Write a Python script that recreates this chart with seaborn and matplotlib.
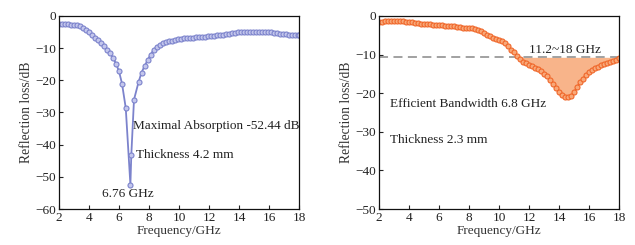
import numpy as np
import pandas as pd
import matplotlib
matplotlib.use("Agg")
import matplotlib.pyplot as plt
import seaborn as sns

# ---- data ----
freq_a = [2.0, 2.2, 2.4, 2.6, 2.8, 3.0, 3.2, 3.4, 3.6, 3.8, 4.0, 4.2, 4.4, 4.6, 4.8,
          5.0, 5.2, 5.4, 5.6, 5.8, 6.0, 6.2, 6.45, 6.76, 6.82, 7.0, 7.3, 7.5, 7.7,
          7.9, 8.1, 8.3, 8.5, 8.7, 8.9, 9.1, 9.3, 9.5, 9.7, 9.9, 10.1, 10.3, 10.5, 10.7,
          10.9, 11.1, 11.3, 11.5, 11.7, 11.9, 12.1, 12.3, 12.5, 12.7, 12.9, 13.1, 13.3,
          13.5, 13.7, 13.9, 14.1, 14.3, 14.5, 14.7, 14.9, 15.1, 15.3, 15.5, 15.7, 15.9,
          16.1, 16.3, 16.5, 16.7, 16.9, 17.1, 17.3, 17.5, 17.7, 17.9, 18.0]
rl_a = [-2.4, -2.5, -2.6, -2.6, -2.7, -2.7, -2.9, -3.2, -3.6, -4.2, -5.0, -5.8, -6.7, -7.6, -8.4,
        -9.4, -10.5, -11.6, -13.0, -14.8, -17.2, -21.0, -28.6, -52.44, -43.2, -26.0, -20.6, -17.6, -15.6,
        -13.8, -12.0, -10.6, -9.6, -9.0, -8.5, -8.2, -7.9, -7.7, -7.5, -7.3, -7.1, -6.9, -6.8, -6.7,
        -6.7, -6.6, -6.6, -6.5, -6.4, -6.3, -6.2, -6.1, -6.0, -5.9, -5.8, -5.7, -5.5,
        -5.4, -5.2, -5.1, -5.0, -5.0, -4.9, -4.9, -4.9, -4.9, -4.9, -4.9, -5.0, -5.0,
        -5.1, -5.2, -5.3, -5.5, -5.6, -5.7, -5.8, -5.9, -6.0, -6.0, -6.0]

freq_b = [2.0, 2.2, 2.4, 2.6, 2.8, 3.0, 3.2, 3.4, 3.6, 3.8, 4.0, 4.2, 4.4, 4.6, 4.8,
          5.0, 5.2, 5.4, 5.6, 5.8, 6.0, 6.2, 6.4, 6.6, 6.8, 7.0, 7.2, 7.4, 7.6, 7.8,
          8.0, 8.2, 8.4, 8.6, 8.8, 9.0, 9.2, 9.4, 9.6, 9.8, 10.0, 10.2, 10.4, 10.6, 10.8,
          11.0, 11.2, 11.4, 11.6, 11.8, 12.0, 12.2, 12.4, 12.6, 12.8, 13.0, 13.2, 13.4,
          13.6, 13.8, 14.0, 14.2, 14.4, 14.6, 14.8, 15.0, 15.2, 15.4, 15.6, 15.8, 16.0,
          16.2, 16.4, 16.6, 16.8, 17.0, 17.2, 17.4, 17.6, 17.8, 18.0]
rl_b = [-1.5, -1.5, -1.4, -1.4, -1.4, -1.4, -1.4, -1.4, -1.4, -1.5, -1.5, -1.6, -1.7, -1.8, -2.0,
        -2.1, -2.2, -2.2, -2.3, -2.3, -2.4, -2.4, -2.5, -2.6, -2.6, -2.7, -2.8, -2.9, -3.0, -3.0,
        -3.1, -3.2, -3.3, -3.6, -4.0, -4.5, -5.0, -5.3, -5.6, -5.9, -6.1, -6.4, -6.9, -7.8, -8.7,
        -9.4, -10.4, -11.2, -11.8, -12.3, -12.7, -13.0, -13.4, -13.8, -14.3, -14.9, -15.6, -16.5,
        -17.5, -18.6, -19.6, -20.4, -21.0, -21.0, -20.6, -19.8, -18.5, -17.2, -16.2, -15.3, -14.6,
        -14.0, -13.5, -13.1, -12.7, -12.4, -12.1, -11.9, -11.7, -11.4, -11.0]

threshold = -10.7

xticks = [2, 4, 6, 8, 10, 12, 14, 16, 18]
yticks_a = [0, -10, -20, -30, -40, -50, -60]
yticks_b = [0, -10, -20, -30, -40, -50]

df_a = pd.DataFrame({"f": freq_a, "rl": rl_a})
df_b = pd.DataFrame({"f": freq_b, "rl": rl_b})

sns.set_theme(style="ticks")
plt.rcParams["font.family"] = ["Liberation Serif", "DejaVu Serif"]
plt.rcParams["axes.unicode_minus"] = True

fig = plt.figure(figsize=(6.35, 2.45), dpi=100)
ax1 = fig.add_axes([59/635, 1-209/245, 240/635, 193/245])
ax2 = fig.add_axes([379/635, 1-209/245, 240/635, 193/245])

fs = 9.5
blue_line = "#7c83cc"
blue_face = "#c3c6ec"
orange_line = "#f0672a"
orange_face = "#f8a878"
fill_col = "#f8b48a"

sns.lineplot(data=df_a, x="f", y="rl", ax=ax1, color=blue_line, lw=1.3,
             marker="o", markersize=3.6, markerfacecolor=blue_face,
             markeredgecolor=blue_line, markeredgewidth=0.8)
sns.lineplot(data=df_b, x="f", y="rl", ax=ax2, color=orange_line, lw=1.3,
             marker="o", markersize=3.6, markerfacecolor=orange_face,
             markeredgecolor=orange_line, markeredgewidth=0.8)

fb = np.array(freq_b); rb = np.array(rl_b)
ax2.fill_between(fb, rb, threshold, where=rb <= threshold + 0.3, interpolate=True,
                 color=fill_col, lw=0, zorder=1)
ax2.axhline(threshold, color="#9a9a9a", ls=(0, (5, 3)), lw=1.3, zorder=1.5)

for ax, yt, ylo in [(ax1, yticks_a, -60), (ax2, yticks_b, -50)]:
    ax.set_xlim(2, 18)
    ax.set_ylim(ylo, 0)
    ax.set_xticks(xticks)
    ax.set_yticks(yt)
    ax.set_xticklabels([str(v) for v in xticks])
    ax.set_yticklabels(["0" if v == 0 else "\u2212" + str(-v) for v in yt])
    ax.tick_params(direction="in", length=3, width=0.8, labelsize=fs, pad=2,
                   colors="#222222", top=False, right=False)
    for s in ax.spines.values():
        s.set_visible(True)
        s.set_color("#111111")
        s.set_linewidth(0.9)
    ax.set_xlabel("Frequency/GHz", fontsize=fs, labelpad=1, color="#333333")
    ax.set_ylabel("Reflection loss/dB", fontsize=fs + 0.3, labelpad=2, color="#333333")

ax1.text(6.93, -34.2, "Maximal Absorption -52.44 dB", fontsize=fs, va="center", ha="left", color="#222222")
ax1.text(7.16, -43.2, "Thickness 4.2 mm", fontsize=fs, va="center", ha="left", color="#222222")
ax1.text(6.6, -55.4, "6.76 GHz", fontsize=fs, va="center", ha="center", color="#222222")

ax2.text(12.0, -8.7, "11.2~18 GHz", fontsize=fs, va="center", ha="left", color="#222222")
ax2.text(2.7, -22.8, "Efficient Bandwidth 6.8 GHz", fontsize=fs, va="center", ha="left", color="#222222")
ax2.text(2.7, -32.0, "Thickness 2.3 mm", fontsize=fs, va="center", ha="left", color="#222222")

fig.savefig("out.png", dpi=100, facecolor="white")
